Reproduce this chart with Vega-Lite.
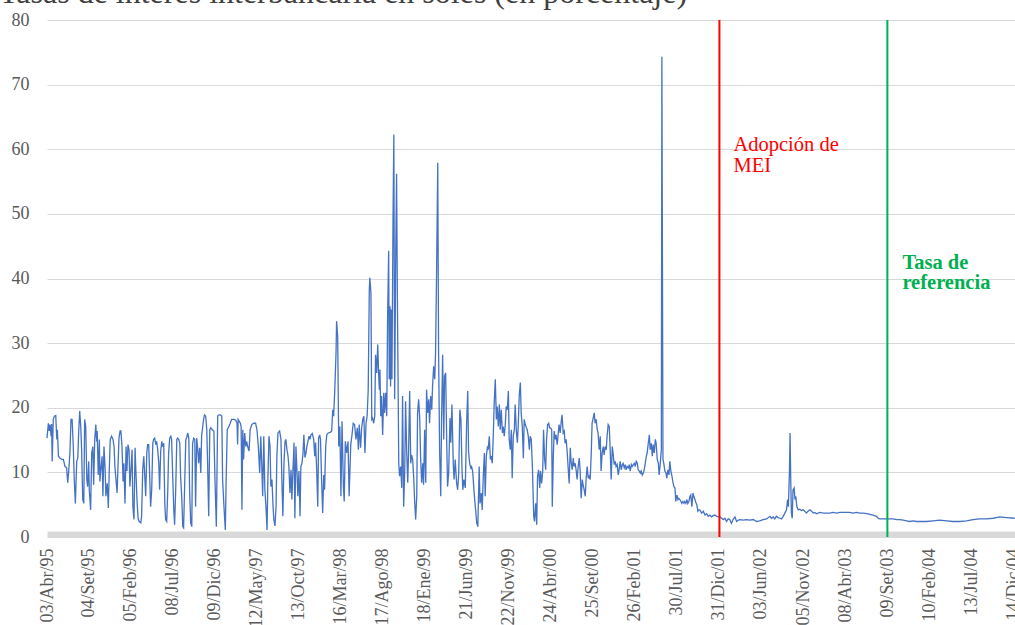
{
  "$schema": "https://vega.github.io/schema/vega-lite/v6.json",
  "width": 968,
  "height": 517,
  "autosize": {"type": "none"},
  "padding": {"left": 47, "top": 20, "right": 0, "bottom": 88},
  "background": "white",
  "title": {"text": "Tasas de interés interbancaria en soles (en porcentaje)", "anchor": "start", "frame": "group", "font": "Liberation Serif", "fontSize": 32, "fontWeight": "normal", "color": "#404040", "dx": -48, "dy": 26, "offset": 2, "baseline": "alphabetic"},
  "config": {"view": {"stroke": null}, "font": "Liberation Serif"},
  "encoding": {
    "x": {
      "field": "d", "type": "temporal",
      "scale": {"type": "utc", "nice": false, "domain": [{"year": 1995, "month": 4, "date": 3, "utc": true}, {"year": 2004, "month": 12, "date": 21, "utc": true}]},
      "axis": {
        "title": null, "grid": false, "ticks": false,
        "values": [
          {"year": 1995, "month": 4, "date": 3, "utc": true},
          {"year": 1995, "month": 9, "date": 4, "utc": true},
          {"year": 1996, "month": 2, "date": 5, "utc": true},
          {"year": 1996, "month": 7, "date": 8, "utc": true},
          {"year": 1996, "month": 12, "date": 9, "utc": true},
          {"year": 1997, "month": 5, "date": 12, "utc": true},
          {"year": 1997, "month": 10, "date": 13, "utc": true},
          {"year": 1998, "month": 3, "date": 16, "utc": true},
          {"year": 1998, "month": 8, "date": 17, "utc": true},
          {"year": 1999, "month": 1, "date": 18, "utc": true},
          {"year": 1999, "month": 6, "date": 21, "utc": true},
          {"year": 1999, "month": 11, "date": 22, "utc": true},
          {"year": 2000, "month": 4, "date": 24, "utc": true},
          {"year": 2000, "month": 9, "date": 25, "utc": true},
          {"year": 2001, "month": 2, "date": 26, "utc": true},
          {"year": 2001, "month": 7, "date": 30, "utc": true},
          {"year": 2001, "month": 12, "date": 31, "utc": true},
          {"year": 2002, "month": 6, "date": 3, "utc": true},
          {"year": 2002, "month": 11, "date": 5, "utc": true},
          {"year": 2003, "month": 4, "date": 8, "utc": true},
          {"year": 2003, "month": 9, "date": 9, "utc": true},
          {"year": 2004, "month": 2, "date": 10, "utc": true},
          {"year": 2004, "month": 7, "date": 13, "utc": true},
          {"year": 2004, "month": 12, "date": 14, "utc": true}
        ],
        "labelExpr": "utcFormat(datum.value, '%d') + '/' + ['Ene','Feb','Mar','Abr','May','Jun','Jul','Ago','Set','Oct','Nov','Dic'][utcmonth(datum.value)] + '/' + utcFormat(datum.value, '%y')",
        "labelAngle": -90, "labelFont": "Liberation Serif", "labelFontSize": 18, "labelColor": "#595959",
        "labelPadding": 14, "labelFlush": false, "labelOverlap": false, "labelBound": false,
        "domainColor": "#D9D9D9", "domainWidth": 6, "offset": -3
      }
    }
  },
  "layer": [
    {
      "data": {
        "format": {"parse": {"d": "utc:'%Y-%j'"}},
        "values": [
{"d":"1995-093","v":15.3},{"d":"1995-098","v":17.6},{"d":"1995-101","v":16.4},{"d":"1995-104","v":17.4},{"d":"1995-108","v":15.6},{"d":"1995-110","v":17.5},{"d":"1995-112","v":11.7},{"d":"1995-116","v":18.2},{"d":"1995-120","v":18.7},{"d":"1995-125","v":18.8},{"d":"1995-129","v":15.1},{"d":"1995-131","v":16.6},{"d":"1995-135","v":12.5},{"d":"1995-141","v":12.2},{"d":"1995-147","v":12.0},{"d":"1995-153","v":12.0},{"d":"1995-159","v":10.9},{"d":"1995-165","v":10.7},{"d":"1995-169","v":8.4},{"d":"1995-173","v":10.4},{"d":"1995-177","v":13.0},{"d":"1995-181","v":18.2},{"d":"1995-185","v":18.2},{"d":"1995-189","v":14.5},{"d":"1995-193","v":8.9},{"d":"1995-197","v":5.2},{"d":"1995-202","v":11.7},{"d":"1995-206","v":12.2},{"d":"1995-209","v":16.1},{"d":"1995-213","v":19.5},{"d":"1995-217","v":16.9},{"d":"1995-220","v":13.5},{"d":"1995-224","v":5.8},{"d":"1995-228","v":5.2},{"d":"1995-231","v":18.2},{"d":"1995-235","v":17.1},{"d":"1995-239","v":8.9},{"d":"1995-242","v":7.8},{"d":"1995-246","v":11.7},{"d":"1995-248","v":7.3},{"d":"1995-253","v":4.2},{"d":"1995-257","v":13.0},{"d":"1995-261","v":14.0},{"d":"1995-264","v":8.1},{"d":"1995-268","v":15.1},{"d":"1995-272","v":17.4},{"d":"1995-275","v":14.8},{"d":"1995-277","v":16.4},{"d":"1995-281","v":9.6},{"d":"1995-285","v":15.1},{"d":"1995-287","v":8.6},{"d":"1995-291","v":10.7},{"d":"1995-295","v":12.5},{"d":"1995-298","v":6.3},{"d":"1995-302","v":14.0},{"d":"1995-306","v":10.7},{"d":"1995-309","v":6.3},{"d":"1995-314","v":8.3},{"d":"1995-318","v":4.5},{"d":"1995-321","v":9.9},{"d":"1995-325","v":15.1},{"d":"1995-330","v":15.6},{"d":"1995-335","v":15.1},{"d":"1995-339","v":14.0},{"d":"1995-342","v":10.9},{"d":"1995-346","v":8.9},{"d":"1995-350","v":6.8},{"d":"1995-353","v":10.4},{"d":"1995-357","v":15.3},{"d":"1995-361","v":16.4},{"d":"1995-364","v":16.4},
{"d":"1996-003","v":14.0},{"d":"1996-007","v":8.6},{"d":"1996-010","v":11.4},{"d":"1996-014","v":5.2},{"d":"1996-018","v":14.0},{"d":"1996-021","v":10.2},{"d":"1996-025","v":14.3},{"d":"1996-029","v":13.5},{"d":"1996-032","v":7.8},{"d":"1996-036","v":10.4},{"d":"1996-040","v":13.5},{"d":"1996-043","v":4.7},{"d":"1996-047","v":2.7},{"d":"1996-051","v":13.8},{"d":"1996-054","v":10.2},{"d":"1996-058","v":5.8},{"d":"1996-062","v":2.9},{"d":"1996-066","v":2.4},{"d":"1996-072","v":2.2},{"d":"1996-075","v":3.2},{"d":"1996-079","v":10.4},{"d":"1996-083","v":12.5},{"d":"1996-086","v":9.9},{"d":"1996-090","v":6.3},{"d":"1996-094","v":13.0},{"d":"1996-097","v":14.3},{"d":"1996-101","v":14.3},{"d":"1996-105","v":8.9},{"d":"1996-108","v":4.7},{"d":"1996-112","v":7.3},{"d":"1996-116","v":14.5},{"d":"1996-119","v":15.1},{"d":"1996-123","v":15.3},{"d":"1996-127","v":14.3},{"d":"1996-130","v":14.8},{"d":"1996-134","v":13.5},{"d":"1996-138","v":11.4},{"d":"1996-141","v":7.3},{"d":"1996-145","v":13.3},{"d":"1996-149","v":14.8},{"d":"1996-152","v":14.0},{"d":"1996-156","v":14.5},{"d":"1996-160","v":5.2},{"d":"1996-163","v":2.7},{"d":"1996-167","v":2.4},{"d":"1996-171","v":7.3},{"d":"1996-174","v":13.0},{"d":"1996-178","v":15.3},{"d":"1996-182","v":15.6},{"d":"1996-185","v":15.1},{"d":"1996-189","v":9.4},{"d":"1996-193","v":4.2},{"d":"1996-196","v":1.9},{"d":"1996-200","v":7.3},{"d":"1996-204","v":15.1},{"d":"1996-207","v":15.3},{"d":"1996-211","v":15.1},{"d":"1996-215","v":14.5},{"d":"1996-218","v":9.4},{"d":"1996-222","v":6.3},{"d":"1996-226","v":1.6},{"d":"1996-229","v":1.4},{"d":"1996-233","v":8.3},{"d":"1996-237","v":15.1},{"d":"1996-240","v":15.3},{"d":"1996-244","v":16.1},{"d":"1996-248","v":15.3},{"d":"1996-251","v":7.3},{"d":"1996-255","v":2.2},{"d":"1996-259","v":1.6},{"d":"1996-262","v":14.5},{"d":"1996-266","v":15.3},{"d":"1996-270","v":15.1},{"d":"1996-273","v":4.7},{"d":"1996-277","v":15.3},{"d":"1996-281","v":13.5},{"d":"1996-284","v":11.4},{"d":"1996-288","v":13.8},{"d":"1996-292","v":9.9},{"d":"1996-295","v":15.6},{"d":"1996-299","v":17.1},{"d":"1996-303","v":18.4},{"d":"1996-306","v":18.9},{"d":"1996-310","v":18.7},{"d":"1996-314","v":16.6},{"d":"1996-317","v":11.4},{"d":"1996-321","v":3.2},{"d":"1996-325","v":16.6},{"d":"1996-329","v":16.9},{"d":"1996-334","v":16.6},{"d":"1996-340","v":16.4},{"d":"1996-344","v":8.9},{"d":"1996-349","v":1.6},{"d":"1996-354","v":18.7},{"d":"1996-359","v":18.9},{"d":"1996-363","v":18.9},
{"d":"1997-003","v":18.7},{"d":"1997-006","v":8.9},{"d":"1997-011","v":4.7},{"d":"1997-016","v":1.1},{"d":"1997-019","v":8.9},{"d":"1997-023","v":16.6},{"d":"1997-029","v":17.1},{"d":"1997-034","v":17.6},{"d":"1997-039","v":18.2},{"d":"1997-047","v":18.2},{"d":"1997-054","v":18.1},{"d":"1997-059","v":17.6},{"d":"1997-061","v":14.3},{"d":"1997-063","v":18.2},{"d":"1997-067","v":17.9},{"d":"1997-071","v":17.6},{"d":"1997-074","v":17.1},{"d":"1997-077","v":4.2},{"d":"1997-080","v":16.6},{"d":"1997-083","v":12.0},{"d":"1997-087","v":16.1},{"d":"1997-091","v":14.0},{"d":"1997-094","v":14.8},{"d":"1997-098","v":14.0},{"d":"1997-103","v":13.3},{"d":"1997-107","v":16.6},{"d":"1997-113","v":17.4},{"d":"1997-120","v":17.6},{"d":"1997-127","v":17.6},{"d":"1997-132","v":16.6},{"d":"1997-137","v":14.0},{"d":"1997-142","v":9.9},{"d":"1997-146","v":15.6},{"d":"1997-149","v":12.0},{"d":"1997-153","v":6.3},{"d":"1997-157","v":15.6},{"d":"1997-161","v":7.3},{"d":"1997-165","v":4.7},{"d":"1997-169","v":1.1},{"d":"1997-172","v":8.9},{"d":"1997-176","v":15.6},{"d":"1997-180","v":14.0},{"d":"1997-183","v":7.8},{"d":"1997-187","v":8.9},{"d":"1997-191","v":4.7},{"d":"1997-194","v":2.7},{"d":"1997-198","v":1.7},{"d":"1997-202","v":4.7},{"d":"1997-205","v":12.5},{"d":"1997-209","v":16.1},{"d":"1997-215","v":16.4},{"d":"1997-220","v":15.1},{"d":"1997-224","v":7.8},{"d":"1997-227","v":3.2},{"d":"1997-231","v":11.4},{"d":"1997-235","v":14.8},{"d":"1997-238","v":15.1},{"d":"1997-242","v":13.5},{"d":"1997-246","v":12.5},{"d":"1997-249","v":10.9},{"d":"1997-253","v":6.8},{"d":"1997-257","v":10.4},{"d":"1997-260","v":5.8},{"d":"1997-264","v":10.4},{"d":"1997-268","v":14.6},{"d":"1997-271","v":2.9},{"d":"1997-275","v":14.0},{"d":"1997-279","v":9.9},{"d":"1997-282","v":6.3},{"d":"1997-286","v":10.2},{"d":"1997-290","v":3.2},{"d":"1997-293","v":10.9},{"d":"1997-297","v":11.4},{"d":"1997-301","v":13.0},{"d":"1997-304","v":15.8},{"d":"1997-308","v":12.3},{"d":"1997-312","v":13.0},{"d":"1997-315","v":14.0},{"d":"1997-319","v":14.8},{"d":"1997-323","v":15.6},{"d":"1997-326","v":15.1},{"d":"1997-330","v":15.8},{"d":"1997-335","v":16.0},{"d":"1997-340","v":15.1},{"d":"1997-344","v":12.5},{"d":"1997-347","v":14.6},{"d":"1997-351","v":10.4},{"d":"1997-355","v":4.7},{"d":"1997-358","v":15.3},{"d":"1997-362","v":15.8},{"d":"1997-365","v":15.1},
{"d":"1998-004","v":8.9},{"d":"1998-008","v":3.7},{"d":"1998-012","v":9.6},{"d":"1998-015","v":7.3},{"d":"1998-019","v":14.0},{"d":"1998-023","v":15.8},{"d":"1998-028","v":16.1},{"d":"1998-036","v":16.2},{"d":"1998-041","v":16.4},{"d":"1998-045","v":19.7},{"d":"1998-048","v":18.7},{"d":"1998-052","v":22.3},{"d":"1998-057","v":28.5},{"d":"1998-059","v":33.4},{"d":"1998-063","v":31.1},{"d":"1998-067","v":14.0},{"d":"1998-071","v":17.1},{"d":"1998-075","v":6.3},{"d":"1998-079","v":17.9},{"d":"1998-084","v":7.8},{"d":"1998-087","v":5.5},{"d":"1998-091","v":14.8},{"d":"1998-096","v":13.0},{"d":"1998-101","v":14.8},{"d":"1998-105","v":6.3},{"d":"1998-111","v":14.3},{"d":"1998-115","v":15.6},{"d":"1998-120","v":17.6},{"d":"1998-125","v":17.4},{"d":"1998-130","v":15.1},{"d":"1998-135","v":16.9},{"d":"1998-139","v":13.5},{"d":"1998-142","v":17.4},{"d":"1998-147","v":13.8},{"d":"1998-151","v":16.9},{"d":"1998-155","v":18.2},{"d":"1998-159","v":18.7},{"d":"1998-163","v":13.0},{"d":"1998-167","v":17.6},{"d":"1998-171","v":18.7},{"d":"1998-175","v":22.8},{"d":"1998-179","v":38.3},{"d":"1998-181","v":40.1},{"d":"1998-185","v":37.8},{"d":"1998-188","v":18.2},{"d":"1998-191","v":18.4},{"d":"1998-195","v":17.6},{"d":"1998-199","v":18.7},{"d":"1998-202","v":28.2},{"d":"1998-206","v":25.4},{"d":"1998-210","v":29.8},{"d":"1998-213","v":25.4},{"d":"1998-216","v":22.8},{"d":"1998-218","v":25.9},{"d":"1998-221","v":18.7},{"d":"1998-224","v":21.8},{"d":"1998-228","v":15.8},{"d":"1998-232","v":22.3},{"d":"1998-235","v":19.2},{"d":"1998-239","v":22.3},{"d":"1998-243","v":18.7},{"d":"1998-246","v":33.7},{"d":"1998-250","v":44.3},{"d":"1998-252","v":24.4},{"d":"1998-255","v":35.7},{"d":"1998-257","v":23.3},{"d":"1998-260","v":35.2},{"d":"1998-262","v":24.4},{"d":"1998-266","v":49.2},{"d":"1998-269","v":62.3},{"d":"1998-272","v":21.3},{"d":"1998-276","v":44.0},{"d":"1998-279","v":56.2},{"d":"1998-282","v":36.8},{"d":"1998-284","v":27.0},{"d":"1998-287","v":11.4},{"d":"1998-290","v":9.4},{"d":"1998-294","v":10.9},{"d":"1998-298","v":7.6},{"d":"1998-301","v":21.8},{"d":"1998-305","v":4.7},{"d":"1998-309","v":10.4},{"d":"1998-312","v":21.0},{"d":"1998-316","v":13.5},{"d":"1998-320","v":8.4},{"d":"1998-323","v":13.0},{"d":"1998-327","v":22.6},{"d":"1998-331","v":11.4},{"d":"1998-334","v":12.7},{"d":"1998-338","v":12.0},{"d":"1998-342","v":9.1},{"d":"1998-345","v":5.8},{"d":"1998-349","v":2.7},{"d":"1998-353","v":6.3},{"d":"1998-356","v":19.2},{"d":"1998-360","v":21.3},{"d":"1998-364","v":18.2},
{"d":"1999-002","v":12.5},{"d":"1999-006","v":8.4},{"d":"1999-010","v":11.4},{"d":"1999-013","v":8.1},{"d":"1999-017","v":16.6},{"d":"1999-021","v":8.4},{"d":"1999-024","v":22.8},{"d":"1999-028","v":19.2},{"d":"1999-032","v":21.3},{"d":"1999-035","v":17.6},{"d":"1999-039","v":21.8},{"d":"1999-043","v":19.7},{"d":"1999-046","v":23.3},{"d":"1999-050","v":26.4},{"d":"1999-054","v":24.4},{"d":"1999-057","v":28.5},{"d":"1999-061","v":41.9},{"d":"1999-065","v":57.9},{"d":"1999-068","v":29.0},{"d":"1999-072","v":13.0},{"d":"1999-076","v":6.3},{"d":"1999-079","v":18.2},{"d":"1999-083","v":28.2},{"d":"1999-087","v":15.1},{"d":"1999-090","v":24.9},{"d":"1999-094","v":25.4},{"d":"1999-098","v":14.6},{"d":"1999-101","v":7.8},{"d":"1999-105","v":9.9},{"d":"1999-110","v":18.4},{"d":"1999-113","v":14.6},{"d":"1999-117","v":20.5},{"d":"1999-122","v":11.2},{"d":"1999-125","v":8.9},{"d":"1999-129","v":12.0},{"d":"1999-134","v":8.4},{"d":"1999-138","v":7.3},{"d":"1999-142","v":9.9},{"d":"1999-146","v":19.7},{"d":"1999-150","v":18.2},{"d":"1999-154","v":10.4},{"d":"1999-157","v":7.3},{"d":"1999-161","v":8.9},{"d":"1999-166","v":7.6},{"d":"1999-171","v":17.6},{"d":"1999-175","v":22.6},{"d":"1999-178","v":13.2},{"d":"1999-182","v":11.4},{"d":"1999-186","v":10.7},{"d":"1999-189","v":10.9},{"d":"1999-193","v":10.2},{"d":"1999-197","v":7.8},{"d":"1999-200","v":6.0},{"d":"1999-204","v":4.2},{"d":"1999-208","v":2.2},{"d":"1999-212","v":1.6},{"d":"1999-217","v":10.9},{"d":"1999-220","v":5.2},{"d":"1999-225","v":6.8},{"d":"1999-228","v":4.2},{"d":"1999-232","v":9.4},{"d":"1999-236","v":13.0},{"d":"1999-239","v":6.3},{"d":"1999-243","v":12.5},{"d":"1999-247","v":13.8},{"d":"1999-250","v":13.5},{"d":"1999-254","v":15.6},{"d":"1999-258","v":12.0},{"d":"1999-261","v":12.5},{"d":"1999-265","v":11.4},{"d":"1999-269","v":16.1},{"d":"1999-272","v":20.7},{"d":"1999-276","v":24.4},{"d":"1999-280","v":18.2},{"d":"1999-283","v":20.2},{"d":"1999-287","v":17.1},{"d":"1999-291","v":20.5},{"d":"1999-294","v":16.6},{"d":"1999-298","v":19.7},{"d":"1999-302","v":16.1},{"d":"1999-305","v":17.1},{"d":"1999-309","v":15.6},{"d":"1999-313","v":17.6},{"d":"1999-316","v":20.2},{"d":"1999-320","v":19.7},{"d":"1999-324","v":22.6},{"d":"1999-327","v":15.1},{"d":"1999-331","v":13.5},{"d":"1999-335","v":16.6},{"d":"1999-338","v":9.1},{"d":"1999-342","v":15.6},{"d":"1999-346","v":16.6},{"d":"1999-349","v":20.5},{"d":"1999-353","v":16.6},{"d":"1999-357","v":14.6},{"d":"1999-360","v":17.1},{"d":"1999-364","v":22.0},
{"d":"2000-003","v":23.9},{"d":"2000-006","v":19.2},{"d":"2000-010","v":17.1},{"d":"2000-014","v":12.2},{"d":"2000-017","v":18.2},{"d":"2000-021","v":17.4},{"d":"2000-025","v":16.9},{"d":"2000-028","v":16.6},{"d":"2000-032","v":15.6},{"d":"2000-036","v":13.5},{"d":"2000-039","v":15.6},{"d":"2000-043","v":15.1},{"d":"2000-047","v":11.0},{"d":"2000-052","v":3.2},{"d":"2000-055","v":2.4},{"d":"2000-059","v":5.2},{"d":"2000-063","v":1.9},{"d":"2000-066","v":9.4},{"d":"2000-070","v":10.4},{"d":"2000-074","v":7.6},{"d":"2000-077","v":10.2},{"d":"2000-081","v":8.3},{"d":"2000-085","v":10.2},{"d":"2000-088","v":16.6},{"d":"2000-092","v":12.0},{"d":"2000-096","v":10.4},{"d":"2000-099","v":15.1},{"d":"2000-103","v":17.4},{"d":"2000-107","v":17.6},{"d":"2000-110","v":16.9},{"d":"2000-114","v":16.9},{"d":"2000-118","v":16.6},{"d":"2000-120","v":4.7},{"d":"2000-124","v":12.7},{"d":"2000-127","v":16.4},{"d":"2000-131","v":15.1},{"d":"2000-134","v":15.8},{"d":"2000-138","v":14.3},{"d":"2000-142","v":16.1},{"d":"2000-145","v":17.4},{"d":"2000-149","v":16.1},{"d":"2000-153","v":17.9},{"d":"2000-156","v":18.9},{"d":"2000-160","v":16.1},{"d":"2000-164","v":16.4},{"d":"2000-167","v":14.5},{"d":"2000-171","v":15.1},{"d":"2000-175","v":13.0},{"d":"2000-178","v":10.9},{"d":"2000-182","v":8.3},{"d":"2000-186","v":13.8},{"d":"2000-189","v":11.7},{"d":"2000-193","v":10.4},{"d":"2000-197","v":12.2},{"d":"2000-200","v":10.9},{"d":"2000-204","v":11.4},{"d":"2000-208","v":10.2},{"d":"2000-211","v":8.9},{"d":"2000-215","v":10.9},{"d":"2000-219","v":12.2},{"d":"2000-222","v":10.4},{"d":"2000-226","v":6.0},{"d":"2000-230","v":8.9},{"d":"2000-233","v":8.1},{"d":"2000-237","v":7.3},{"d":"2000-241","v":6.3},{"d":"2000-244","v":8.9},{"d":"2000-248","v":10.9},{"d":"2000-252","v":9.1},{"d":"2000-255","v":9.4},{"d":"2000-259","v":8.9},{"d":"2000-263","v":13.0},{"d":"2000-266","v":17.6},{"d":"2000-270","v":18.4},{"d":"2000-274","v":19.2},{"d":"2000-277","v":17.6},{"d":"2000-281","v":18.2},{"d":"2000-285","v":16.6},{"d":"2000-288","v":16.1},{"d":"2000-292","v":13.5},{"d":"2000-296","v":15.6},{"d":"2000-299","v":10.2},{"d":"2000-303","v":13.0},{"d":"2000-307","v":14.0},{"d":"2000-310","v":12.7},{"d":"2000-314","v":14.0},{"d":"2000-318","v":13.5},{"d":"2000-321","v":15.6},{"d":"2000-325","v":17.4},{"d":"2000-329","v":17.1},{"d":"2000-332","v":14.0},{"d":"2000-336","v":8.9},{"d":"2000-340","v":14.0},{"d":"2000-343","v":13.0},{"d":"2000-347","v":11.2},{"d":"2000-351","v":11.7},{"d":"2000-354","v":10.9},{"d":"2000-358","v":11.2},{"d":"2000-362","v":9.6},{"d":"2000-365","v":10.4},
{"d":"2001-003","v":11.7},{"d":"2001-007","v":10.4},{"d":"2001-011","v":11.2},{"d":"2001-014","v":11.4},{"d":"2001-018","v":10.7},{"d":"2001-022","v":11.2},{"d":"2001-025","v":10.4},{"d":"2001-029","v":10.9},{"d":"2001-033","v":10.7},{"d":"2001-036","v":11.2},{"d":"2001-040","v":10.2},{"d":"2001-044","v":11.2},{"d":"2001-047","v":10.9},{"d":"2001-051","v":11.2},{"d":"2001-055","v":11.4},{"d":"2001-058","v":10.9},{"d":"2001-062","v":11.7},{"d":"2001-066","v":11.4},{"d":"2001-069","v":10.4},{"d":"2001-073","v":10.2},{"d":"2001-077","v":9.9},{"d":"2001-080","v":10.2},{"d":"2001-084","v":9.6},{"d":"2001-088","v":9.9},{"d":"2001-091","v":10.4},{"d":"2001-095","v":11.4},{"d":"2001-099","v":12.5},{"d":"2001-102","v":13.0},{"d":"2001-106","v":14.5},{"d":"2001-110","v":15.8},{"d":"2001-113","v":13.5},{"d":"2001-117","v":14.5},{"d":"2001-121","v":12.5},{"d":"2001-124","v":14.3},{"d":"2001-128","v":13.0},{"d":"2001-132","v":15.1},{"d":"2001-135","v":14.5},{"d":"2001-139","v":12.0},{"d":"2001-143","v":11.4},{"d":"2001-146","v":9.6},{"d":"2001-150","v":11.4},{"d":"2001-154","v":13.5},{"d":"2001-156","v":74.3},{"d":"2001-160","v":12.0},{"d":"2001-163","v":11.4},{"d":"2001-167","v":10.2},{"d":"2001-171","v":9.9},{"d":"2001-174","v":9.1},{"d":"2001-178","v":10.4},{"d":"2001-182","v":9.6},{"d":"2001-185","v":11.7},{"d":"2001-189","v":10.2},{"d":"2001-193","v":9.4},{"d":"2001-196","v":8.6},{"d":"2001-200","v":7.8},{"d":"2001-204","v":7.6},{"d":"2001-207","v":5.5},{"d":"2001-211","v":6.5},{"d":"2001-215","v":5.8},{"d":"2001-218","v":6.0},{"d":"2001-222","v":5.8},{"d":"2001-226","v":5.5},{"d":"2001-229","v":5.2},{"d":"2001-233","v":5.5},{"d":"2001-237","v":5.2},{"d":"2001-240","v":5.5},{"d":"2001-244","v":5.2},{"d":"2001-248","v":5.8},{"d":"2001-251","v":5.2},{"d":"2001-255","v":5.5},{"d":"2001-259","v":6.3},{"d":"2001-262","v":6.5},{"d":"2001-266","v":4.7},{"d":"2001-270","v":6.8},{"d":"2001-273","v":6.3},{"d":"2001-277","v":5.8},{"d":"2001-281","v":5.3},{"d":"2001-284","v":5.0},{"d":"2001-288","v":4.0},{"d":"2001-292","v":4.2},{"d":"2001-295","v":4.2},{"d":"2001-302","v":3.7},{"d":"2001-308","v":4.0},{"d":"2001-314","v":3.4},{"d":"2001-320","v":3.6},{"d":"2001-326","v":3.2},{"d":"2001-332","v":3.4},{"d":"2001-338","v":3.1},{"d":"2001-344","v":3.3},{"d":"2001-350","v":3.4},{"d":"2001-357","v":3.2},{"d":"2001-363","v":3.1},
{"d":"2002-004","v":3.1},{"d":"2002-010","v":2.9},{"d":"2002-016","v":2.7},{"d":"2002-022","v":2.9},{"d":"2002-028","v":2.4},{"d":"2002-034","v":2.8},{"d":"2002-040","v":2.7},{"d":"2002-046","v":2.1},{"d":"2002-052","v":2.7},{"d":"2002-059","v":3.1},{"d":"2002-065","v":2.4},{"d":"2002-071","v":2.6},{"d":"2002-077","v":2.7},{"d":"2002-089","v":2.6},{"d":"2002-101","v":2.7},{"d":"2002-114","v":2.6},{"d":"2002-126","v":2.7},{"d":"2002-138","v":2.4},{"d":"2002-150","v":2.5},{"d":"2002-162","v":2.7},{"d":"2002-175","v":2.8},{"d":"2002-187","v":3.2},{"d":"2002-193","v":2.9},{"d":"2002-199","v":3.1},{"d":"2002-205","v":2.8},{"d":"2002-211","v":3.2},{"d":"2002-217","v":3.0},{"d":"2002-224","v":2.9},{"d":"2002-230","v":2.8},{"d":"2002-236","v":3.2},{"d":"2002-242","v":3.7},{"d":"2002-248","v":4.2},{"d":"2002-252","v":5.8},{"d":"2002-255","v":4.7},{"d":"2002-259","v":10.4},{"d":"2002-261","v":16.1},{"d":"2002-264","v":7.8},{"d":"2002-266","v":3.7},{"d":"2002-269","v":2.9},{"d":"2002-272","v":7.3},{"d":"2002-276","v":7.6},{"d":"2002-279","v":5.8},{"d":"2002-282","v":6.3},{"d":"2002-286","v":4.7},{"d":"2002-291","v":4.2},{"d":"2002-297","v":4.3},{"d":"2002-303","v":4.1},{"d":"2002-309","v":4.2},{"d":"2002-315","v":4.0},{"d":"2002-321","v":3.7},{"d":"2002-327","v":4.0},{"d":"2002-334","v":4.2},{"d":"2002-340","v":4.0},{"d":"2002-346","v":3.7},{"d":"2002-352","v":3.8},{"d":"2002-358","v":3.6},
{"d":"2003-005","v":3.8},{"d":"2003-018","v":3.7},{"d":"2003-030","v":3.7},{"d":"2003-042","v":3.7},{"d":"2003-054","v":3.8},{"d":"2003-067","v":3.7},{"d":"2003-079","v":3.8},{"d":"2003-091","v":3.8},{"d":"2003-103","v":3.8},{"d":"2003-115","v":3.8},{"d":"2003-127","v":3.7},{"d":"2003-140","v":3.8},{"d":"2003-152","v":3.7},{"d":"2003-164","v":3.7},{"d":"2003-177","v":3.6},{"d":"2003-189","v":3.5},{"d":"2003-201","v":3.4},{"d":"2003-213","v":3.2},{"d":"2003-219","v":2.9},{"d":"2003-225","v":2.8},{"d":"2003-237","v":2.8},{"d":"2003-250","v":2.8},{"d":"2003-262","v":2.8},{"d":"2003-274","v":2.8},{"d":"2003-287","v":2.7},{"d":"2003-299","v":2.7},{"d":"2003-311","v":2.6},{"d":"2003-323","v":2.5},{"d":"2003-335","v":2.4},{"d":"2003-347","v":2.5},{"d":"2003-360","v":2.4},
{"d":"2004-007","v":2.4},{"d":"2004-031","v":2.4},{"d":"2004-056","v":2.5},{"d":"2004-080","v":2.6},{"d":"2004-105","v":2.5},{"d":"2004-129","v":2.4},{"d":"2004-154","v":2.4},{"d":"2004-178","v":2.5},{"d":"2004-202","v":2.7},{"d":"2004-227","v":2.8},{"d":"2004-251","v":2.8},{"d":"2004-276","v":2.9},{"d":"2004-300","v":3.1},{"d":"2004-325","v":3.0},{"d":"2004-355","v":2.9}
        ]
      },
      "mark": {"type": "line", "color": "#4472C4", "strokeWidth": 1.3},
      "encoding": {
        "y": {
          "field": "v", "type": "quantitative",
          "scale": {"domain": [0, 80], "nice": false},
          "axis": {"title": null, "values": [0, 10, 20, 30, 40, 50, 60, 70, 80], "domain": false, "ticks": false, "grid": true, "gridColor": "#D9D9D9", "gridWidth": 1, "labelFont": "Liberation Serif", "labelFontSize": 18, "labelColor": "#595959", "labelPadding": 18}
        }
      }
    },
    {
      "data": {"format": {"parse": {"d": "utc:'%Y-%j'"}}, "values": [{"d": "2002-002", "tipo": "MEI"}, {"d": "2003-253", "tipo": "Ref"}]},
      "mark": {"type": "rule", "strokeWidth": 2},
      "encoding": {
        "color": {"field": "tipo", "type": "nominal", "scale": {"domain": ["MEI", "Ref"], "range": ["#FF0000", "#00B050"]}, "legend": null}
      }
    },
    {
      "data": {"format": {"parse": {"d": "utc:'%Y-%j'"}}, "values": [{"d": "2002-002", "v": 59.7, "t": ["Adopción de", "MEI"]}]},
      "mark": {"type": "text", "align": "left", "baseline": "alphabetic", "dx": 14, "font": "Liberation Serif", "fontSize": 20.5, "lineHeight": 20.5, "color": "#FF0000"},
      "encoding": {"y": {"field": "v", "type": "quantitative"}, "text": {"field": "t"}}
    },
    {
      "data": {"format": {"parse": {"d": "utc:'%Y-%j'"}}, "values": [{"d": "2003-253", "v": 41.5, "t": ["Tasa de", "referencia"]}]},
      "mark": {"type": "text", "align": "left", "baseline": "alphabetic", "dx": 15, "font": "Liberation Serif", "fontSize": 20.5, "fontWeight": "bold", "lineHeight": 20.5, "color": "#00B050"},
      "encoding": {"y": {"field": "v", "type": "quantitative"}, "text": {"field": "t"}}
    }
  ]
}
